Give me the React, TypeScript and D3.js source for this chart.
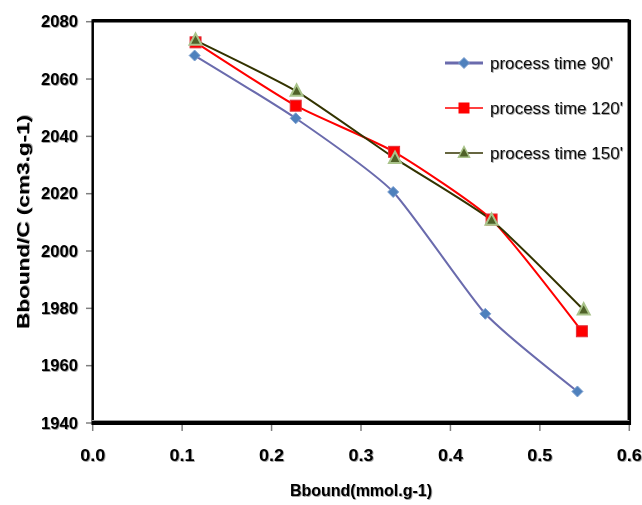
import React from "react";
import * as d3 from "d3";

const W = 642;
const H = 505;

const xTicks = [0.0, 0.1, 0.2, 0.3, 0.4, 0.5, 0.6];
const yTicks = [1940, 1960, 1980, 2000, 2020, 2040, 2060, 2080];

const seriesNames = ["process time 90'", "process time 120'", "process time 150'"];
const x90 = [0.114, 0.227, 0.336, 0.439, 0.542];
const y90 = [2068.2, 2046.3, 2020.6, 1978.1, 1951.0];
const x120 = [0.115, 0.227, 0.337, 0.446, 0.547];
const y120 = [2072.8, 2050.7, 2034.6, 2011.0, 1972.0];
const x150 = [0.115, 0.228, 0.338, 0.446, 0.549];
const y150 = [2073.5, 2055.7, 2032.3, 2010.7, 1979.4];

const xTitle = "Bbound(mmol.g-1)";
const yTitle = "Bbound/C (cm3.g-1)";

const left = 92.7;
const right = 629.3;
const top = 21.7;
const bottom = 423;

export default function App() {
  const x = d3.scaleLinear().domain([0, 0.6]).range([left, right]);
  const y = d3.scaleLinear().domain([1940, 2080]).range([bottom, top]);
  const line = d3
    .line<[number, number]>()
    .x((d) => x(d[0]))
    .y((d) => y(d[1]))
    .curve(d3.curveCardinal.tension(0.45));

  const s90 = x90.map((v, i) => [v, y90[i]] as [number, number]);
  const s120 = x120.map((v, i) => [v, y120[i]] as [number, number]);
  const s150 = x150.map((v, i) => [v, y150[i]] as [number, number]);

  const diamond = (cx: number, cy: number, r: number) =>
    `M${cx},${cy - r}L${cx + r},${cy}L${cx},${cy + r}L${cx - r},${cy}Z`;
  const tri = (cx: number, cy: number, r: number) =>
    `M${cx},${cy - r * 1.15}L${cx + r},${cy + r * 0.75}L${cx - r},${cy + r * 0.75}Z`;

  const tickFont = {
    fontFamily: "'Liberation Sans', Arial, sans-serif",
    fontWeight: 700,
    fontSize: 16,
    fill: "#000",
  } as React.CSSProperties;

  const legendY = [63, 108, 153];

  return (
    <svg
      width={W}
      height={H}
      style={{ position: "absolute", left: 0, top: 0, background: "#fff" }}
    >
      <defs>
        <filter id="sh" x="-10%" y="-30%" width="130%" height="170%">
          <feDropShadow dx="0.8" dy="0.8" stdDeviation="0.7" floodColor="#000" floodOpacity="0.45" />
        </filter>
      </defs>
      <rect x={0} y={0} width={W} height={H} fill="#fff" />
      {/* y ticks */}
      {yTicks.map((t) => (
        <g key={"y" + t}>
          <line x1={86} x2={left} y1={y(t)} y2={y(t)} stroke="#808080" strokeWidth={1.5} />
          <text
            x={78}
            y={y(t)}
            textAnchor="end"
            dominantBaseline="central"
            style={tickFont}
            filter="url(#sh)"
            textLength={37}
            lengthAdjust="spacingAndGlyphs"
          >
            {t}
          </text>
        </g>
      ))}
      {/* x ticks */}
      {xTicks.map((t) => (
        <g key={"x" + t}>
          <line x1={x(t)} x2={x(t)} y1={bottom} y2={bottom + 8} stroke="#808080" strokeWidth={1.5} />
          <text
            x={x(t)}
            y={455}
            textAnchor="middle"
            dominantBaseline="central"
            style={tickFont}
            filter="url(#sh)"
            textLength={25}
            lengthAdjust="spacingAndGlyphs"
          >
            {t.toFixed(1)}
          </text>
        </g>
      ))}
      {/* frame */}
      <line x1={left} x2={right} y1={top - 1} y2={top - 1} stroke="#000" strokeWidth={3.5} />
      <line x1={right} x2={right} y1={top - 2} y2={bottom + 2} stroke="#000" strokeWidth={3.5} />
      <line x1={left} x2={right + 1.5} y1={bottom} y2={bottom} stroke="#000" strokeWidth={4} />
      <line x1={left} x2={left} y1={top - 2.5} y2={bottom + 2} stroke="#000" strokeWidth={2.5} />
      <line x1={left - 1} x2={right} y1={bottom - 2.5} y2={bottom - 2.5} stroke="#9a9a9a" strokeWidth={1} />

      {/* series lines */}
      <path d={line(s90) || ""} fill="none" stroke="#6A6BAD" strokeWidth={2} />
      <path d={line(s120) || ""} fill="none" stroke="#FF0000" strokeWidth={2} />
      <path d={line(s150) || ""} fill="none" stroke="#333300" strokeWidth={2} />

      {/* markers */}
      {s90.map((d, i) => (
        <path key={"m90" + i} d={diamond(x(d[0]), y(d[1]), 5.5)} fill="#4F81BD" stroke="#7DA0D0" strokeWidth={1} />
      ))}
      {s120.map((d, i) => (
        <rect
          key={"m120" + i}
          x={x(d[0]) - 5.5}
          y={y(d[1]) - 5.5}
          width={11}
          height={11}
          fill="#FF0000"
          stroke="#E0303A"
          strokeWidth={1}
        />
      ))}
      {s150.map((d, i) => (
        <path key={"m150" + i} d={tri(x(d[0]), y(d[1]), 6)} fill="#4F6228" stroke="#A9C38A" strokeWidth={2} />
      ))}

      {/* legend */}
      <line x1={445} x2={483} y1={legendY[0]} y2={legendY[0]} stroke="#6A6BAD" strokeWidth={3} />
      <path d={diamond(464, legendY[0], 5.5)} fill="#4F81BD" stroke="#7DA0D0" strokeWidth={1} />
      <line x1={445} x2={483} y1={legendY[1]} y2={legendY[1]} stroke="#FF0000" strokeWidth={1.5} />
      <rect x={458.5} y={legendY[1] - 5.5} width={11} height={11} fill="#FF0000" />
      <line x1={445} x2={483} y1={legendY[2]} y2={legendY[2]} stroke="#333300" strokeWidth={1.5} />
      <path d={tri(464, legendY[2], 5.5)} fill="#4F6228" stroke="#A9C38A" strokeWidth={1.5} />
      {seriesNames.map((n, i) => (
        <text
          key={n}
          x={490}
          y={legendY[i]}
          dominantBaseline="central"
          style={{ fontFamily: "'Liberation Sans', Arial, sans-serif", fontSize: 17, fill: "#111" }}
          filter="url(#sh)"
          textLength={i === 0 ? 123 : 133}
          lengthAdjust="spacingAndGlyphs"
        >
          {n}
        </text>
      ))}

      {/* axis titles */}
      <text
        x={(left + right) / 2}
        y={490}
        textAnchor="middle"
        dominantBaseline="central"
        style={{ ...tickFont, fontSize: 16 }}
        filter="url(#sh)"
        textLength={142}
        lengthAdjust="spacingAndGlyphs"
      >
        {xTitle}
      </text>
      <text
        transform={`translate(23,222) rotate(-90)`}
        textAnchor="middle"
        dominantBaseline="central"
        style={{ ...tickFont, fontSize: 17 }}
        filter="url(#sh)"
        textLength={214}
        lengthAdjust="spacingAndGlyphs"
      >
        {yTitle}
      </text>
    </svg>
  );
}
